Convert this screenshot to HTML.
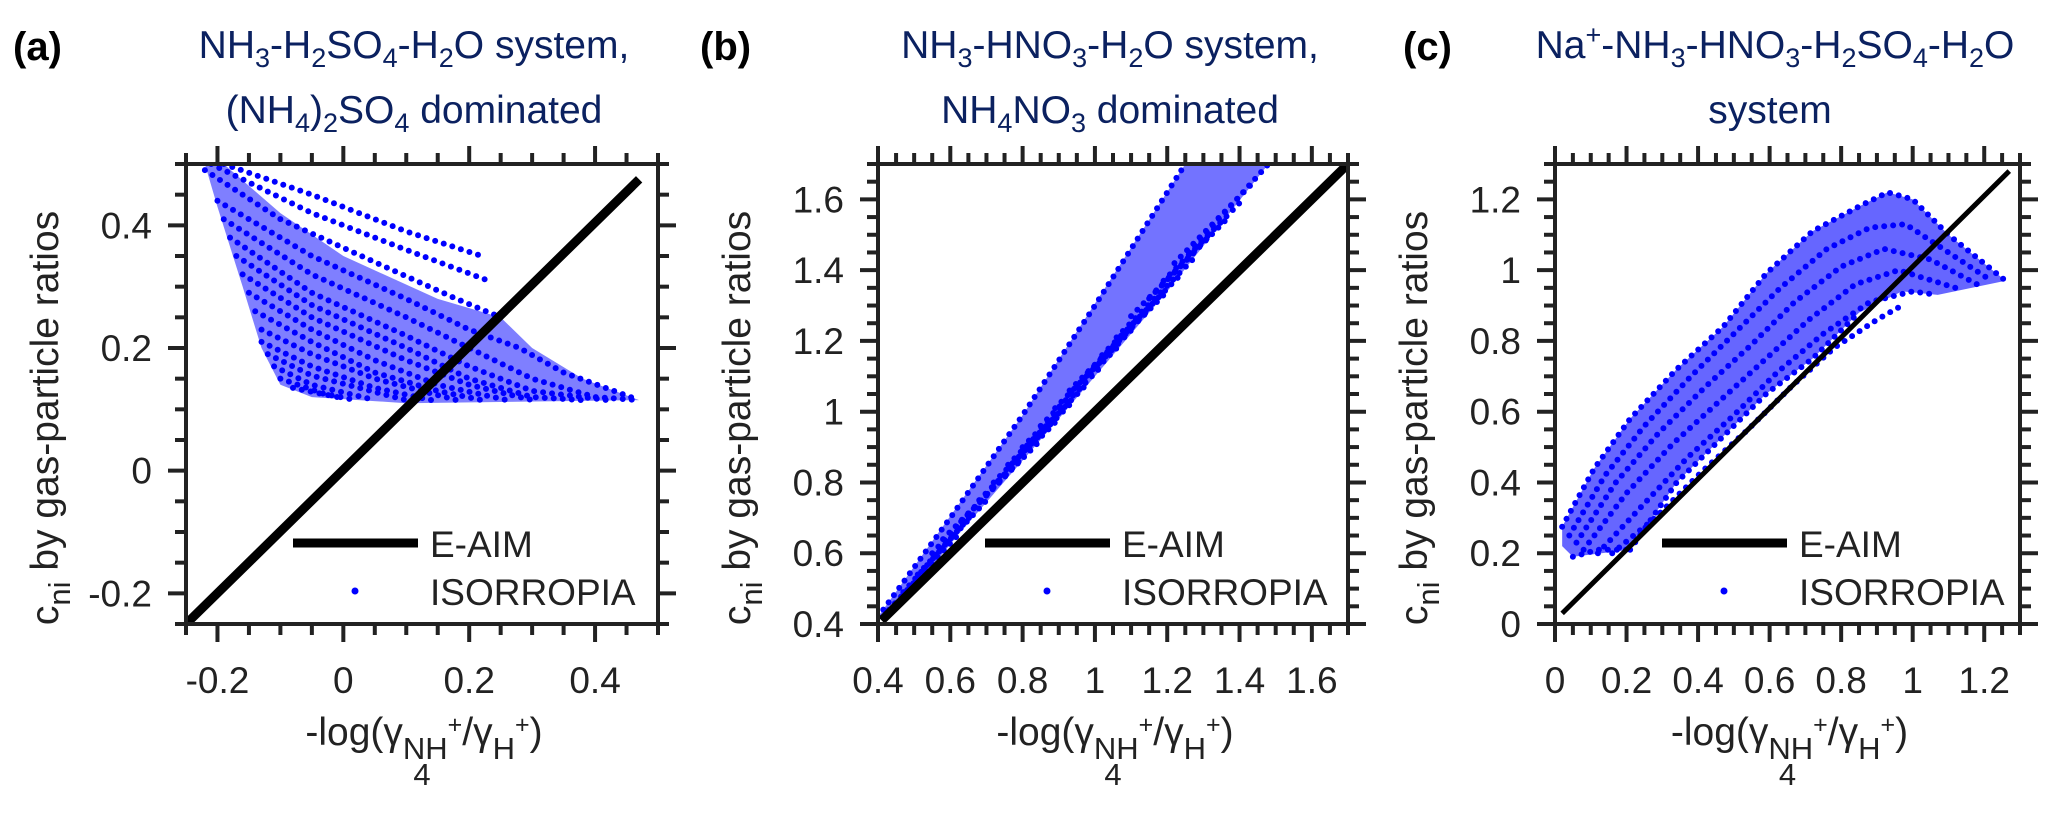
<!DOCTYPE html>
<html><head><meta charset="utf-8"><style>
html,body{margin:0;padding:0;background:#fff;}
svg{display:block;font-family:"Liberation Sans",Arial,sans-serif;}
</style></head><body>
<svg id="fig" width="2067" height="815" viewBox="0 0 2067 815" xmlns="http://www.w3.org/2000/svg">
<text x="13" y="60" font-size="40" font-weight="bold">(a)</text>
<text x="700" y="60" font-size="40" font-weight="bold">(b)</text>
<text x="1403" y="60" font-size="40" font-weight="bold">(c)</text>
<g fill="#0b2160" font-size="39" text-anchor="middle">
<text x="414" y="58">NH<tspan font-size="27" dy="9">3</tspan><tspan dy="-9">-H</tspan><tspan font-size="27" dy="9">2</tspan><tspan dy="-9">SO</tspan><tspan font-size="27" dy="9">4</tspan><tspan dy="-9">-H</tspan><tspan font-size="27" dy="9">2</tspan><tspan dy="-9">O system,</tspan></text>
<text x="414" y="123">(NH<tspan font-size="27" dy="9">4</tspan><tspan dy="-9">)</tspan><tspan font-size="27" dy="9">2</tspan><tspan dy="-9">SO</tspan><tspan font-size="27" dy="9">4</tspan><tspan dy="-9"> dominated</tspan></text>
<text x="1110" y="58">NH<tspan font-size="27" dy="9">3</tspan><tspan dy="-9">-HNO</tspan><tspan font-size="27" dy="9">3</tspan><tspan dy="-9">-H</tspan><tspan font-size="27" dy="9">2</tspan><tspan dy="-9">O system,</tspan></text>
<text x="1110" y="123">NH<tspan font-size="27" dy="9">4</tspan><tspan dy="-9">NO</tspan><tspan font-size="27" dy="9">3</tspan><tspan dy="-9"> dominated</tspan></text>
<text x="1775" y="58">Na<tspan font-size="27" dy="-14">+</tspan><tspan dy="14">-NH</tspan><tspan font-size="27" dy="9">3</tspan><tspan dy="-9">-HNO</tspan><tspan font-size="27" dy="9">3</tspan><tspan dy="-9">-H</tspan><tspan font-size="27" dy="9">2</tspan><tspan dy="-9">SO</tspan><tspan font-size="27" dy="9">4</tspan><tspan dy="-9">-H</tspan><tspan font-size="27" dy="9">2</tspan><tspan dy="-9">O</tspan></text>
<text x="1770" y="123">system</text>
</g>
</svg>
<script>
// ---------- Panel (a) data ----------
const aTicks = [-0.2, 0, 0.2, 0.4];
const aTickLabels = ["-0.2", "0", "0.2", "0.4"];
const aEaim = [[-0.25, -0.25], [0.47, 0.475]];
const aCloud = [[-0.22,0.5],[-0.19,0.5],[-0.1,0.42],[0,0.35],[0.15,0.28],[0.25,0.25],[0.3,0.2],[0.38,0.15],[0.47,0.115],[0.1,0.11],[-0.05,0.12],[-0.1,0.14],[-0.13,0.2],[-0.16,0.3],[-0.2,0.43]];
const aCurves = [
 [[-0.19,0.5],[-0.05,0.45],[0.1,0.39],[0.22,0.35]],
 [[-0.21,0.5],[-0.05,0.42],[0.1,0.36],[0.23,0.31]],
 [[-0.22,0.49],[-0.1,0.41],[0.05,0.34],[0.18,0.28],[0.25,0.25]],
 [[-0.2,0.44],[-0.05,0.35],[0.1,0.28],[0.2,0.23],[0.28,0.2],[0.35,0.16],[0.47,0.115]],
 [[-0.19,0.41],[-0.05,0.32],[0.1,0.25],[0.2,0.2],[0.3,0.15],[0.4,0.12],[0.47,0.115]],
 [[-0.18,0.38],[-0.05,0.29],[0.1,0.22],[0.2,0.17],[0.3,0.13],[0.42,0.115]],
 [[-0.17,0.35],[-0.05,0.27],[0.1,0.2],[0.2,0.15],[0.3,0.12],[0.38,0.115]],
 [[-0.16,0.32],[-0.05,0.25],[0.1,0.18],[0.2,0.14],[0.3,0.115]],
 [[-0.15,0.29],[-0.05,0.23],[0.05,0.18],[0.15,0.14],[0.26,0.115]],
 [[-0.14,0.26],[-0.05,0.21],[0.05,0.16],[0.15,0.13],[0.22,0.115]],
 [[-0.13,0.23],[-0.05,0.19],[0.05,0.15],[0.18,0.115]],
 [[-0.13,0.21],[-0.05,0.17],[0.05,0.135],[0.14,0.115]],
 [[-0.12,0.19],[-0.05,0.155],[0.1,0.115]],
 [[-0.11,0.17],[-0.05,0.14],[0.05,0.115]],
 [[-0.1,0.15],[-0.03,0.125],[0.02,0.115]],
 [[-0.08,0.135],[0,0.118]]
];
// ---------- Panel (b) data ----------
const bTicks = [0.4, 0.6, 0.8, 1, 1.2, 1.4, 1.6];
const bTickLabels = ["0.4", "0.6", "0.8", "1", "1.2", "1.4", "1.6"];
const bEaim = [[0.41, 0.41], [1.7, 1.7]];
const bCloud = [[0.4,0.42],[0.8,0.99],[1.25,1.7],[1.48,1.7],[1.2,1.34],[0.9,0.98],[0.62,0.65],[0.45,0.44]];
const bCurves = [
 [[0.4,0.42],[0.6,0.7],[0.8,0.99],[1.0,1.3],[1.25,1.7]],
 [[1.26,1.45],[1.48,1.7]],
 [[1.22,1.42],[1.44,1.65]],
 [[1.19,1.37],[1.41,1.6]],
 [[1.15,1.32],[1.37,1.55]],
 [[1.1,1.27],[1.32,1.5]],
 [[1.06,1.21],[1.28,1.44]],
 [[1.02,1.16],[1.24,1.39]],
 [[0.98,1.11],[1.2,1.34]],
 [[0.93,1.06],[1.15,1.29]],
 [[0.89,1.01],[1.11,1.24]],
 [[0.85,0.96],[1.07,1.19]],
 [[0.8,0.9],[1.02,1.13]],
 [[0.76,0.85],[0.98,1.08]],
 [[0.72,0.8],[0.94,1.03]],
 [[0.68,0.75],[0.9,0.98]],
 [[0.63,0.69],[0.85,0.92]],
 [[0.58,0.64],[0.8,0.87]],
 [[0.55,0.6],[0.75,0.82]],
 [[0.51,0.54],[0.71,0.76]],
 [[0.47,0.49],[0.66,0.71]],
 [[0.43,0.44],[0.62,0.65]]
];
// ---------- Panel (c) data ----------
const cTicks = [0, 0.2, 0.4, 0.6, 0.8, 1, 1.2];
const cTickLabels = ["0", "0.2", "0.4", "0.6", "0.8", "1", "1.2"];
const cEaim = [[0.02, 0.03], [1.27, 1.28]];
const cCloud = [[0.02,0.275],[0.11,0.44],[0.21,0.58],[0.34,0.72],[0.47,0.84],[0.59,0.99],[0.72,1.11],[0.85,1.18],[0.93,1.22],[1.0,1.2],[1.1,1.1],[1.26,0.97],[1.07,0.93],[0.97,0.94],[0.85,0.88],[0.72,0.75],[0.59,0.65],[0.47,0.53],[0.34,0.4],[0.21,0.21],[0.05,0.19],[0.02,0.22]];
const cCurves = [
 [[0.02,0.275],[0.11,0.44],[0.21,0.58],[0.34,0.72],[0.47,0.84],[0.59,0.99],[0.72,1.11],[0.85,1.18],[0.93,1.22],[1.0,1.2],[1.1,1.1],[1.26,0.97]],
 [[0.04,0.25],[0.14,0.42],[0.25,0.56],[0.38,0.7],[0.5,0.82],[0.63,0.95],[0.76,1.06],[0.88,1.12],[0.98,1.13],[1.1,1.05],[1.22,0.97]],
 [[0.06,0.23],[0.17,0.4],[0.29,0.54],[0.42,0.67],[0.55,0.79],[0.67,0.91],[0.8,1.01],[0.92,1.06],[1.05,1.03],[1.18,0.96]],
 [[0.08,0.21],[0.2,0.37],[0.33,0.51],[0.46,0.63],[0.59,0.75],[0.71,0.86],[0.84,0.96],[0.96,1.0],[1.12,0.95]],
 [[0.12,0.2],[0.24,0.33],[0.37,0.47],[0.5,0.59],[0.62,0.71],[0.75,0.82],[0.88,0.91],[1.0,0.94],[1.07,0.93]],
 [[0.16,0.2],[0.28,0.3],[0.41,0.43],[0.54,0.55],[0.66,0.67],[0.78,0.78],[0.9,0.86],[0.97,0.9]],
 [[0.21,0.21],[0.34,0.4],[0.47,0.53],[0.59,0.65],[0.72,0.75],[0.85,0.88]],
 [[0.05,0.19],[0.12,0.21],[0.21,0.21]]
];

const NS = "http://www.w3.org/2000/svg";
const svg = document.getElementById('fig');
function mk(tag, attrs, parent) {
  const e = document.createElementNS(NS, tag);
  for (const k in attrs) e.setAttribute(k, attrs[k]);
  (parent || svg).appendChild(e);
  return e;
}
const panels = [
  {id:'a', L:186, R:658, T:164, B:624, x0:-0.25, x1:0.5, y0:-0.25, y1:0.5, ticks:aTicks, labels:aTickLabels, eaim:aEaim, cloud:aCloud, curves:aCurves, lw:9, cloudOp:0.5},
  {id:'b', L:878, R:1348, T:164, B:624, x0:0.4, x1:1.7, y0:0.4, y1:1.7, ticks:bTicks, labels:bTickLabels, eaim:bEaim, cloud:bCloud, curves:bCurves, lw:9, cloudOp:0.55},
  {id:'c', L:1555, R:2020, T:164, B:624, x0:0, x1:1.3, y0:0, y1:1.3, ticks:cTicks, labels:cTickLabels, eaim:cEaim, cloud:cCloud, curves:cCurves, lw:5, cloudOp:0.6}
];
panels.forEach(p => {
  const sx = v => p.L + (v - p.x0) / (p.x1 - p.x0) * (p.R - p.L);
  const sy = v => p.B - (v - p.y0) / (p.y1 - p.y0) * (p.B - p.T);
  const g = mk('g', {});
  
  
  const clipId = 'clip' + p.id;
  const cp = mk('clipPath', {id: clipId}, g);
  mk('rect', {x:p.L, y:p.T, width:p.R-p.L, height:p.B-p.T}, cp);
  const plot = mk('g', {'clip-path': 'url(#' + clipId + ')'}, g);
  const cl = mk('polygon', {points: p.cloud.map(q => sx(q[0]) + ',' + sy(q[1])).join(' '), fill:'#0000ff', opacity:p.cloudOp}, plot);
  
  
  p.curves.forEach((c, i) => {
    const pl = mk('polyline', {points: c.map(q => sx(q[0]) + ',' + sy(q[1])).join(' '), fill:'none', stroke:'#0000ff', 'stroke-width':6, 'stroke-linecap':'round', 'stroke-dasharray':'0 9'}, plot);
    
    
  });
  const el = mk('line', {x1:sx(p.eaim[0][0]), y1:sy(p.eaim[0][1]), x2:sx(p.eaim[1][0]), y2:sy(p.eaim[1][1]), stroke:'#000', 'stroke-width':p.lw}, plot);
  
  
  const tg = mk('g', {stroke:'#222', 'stroke-width':4}, g);
  
  
  const step = 0.05;
  const nx = Math.round((p.x1 - p.x0) / step);
  for (let i = 0; i <= nx; i++) {
    const v = p.x0 + i * step;
    const major = p.ticks.some(t => Math.abs(t - v) < 1e-6);
    const len = major ? 18 : 11;
    const x = sx(v);
    mk('line', {x1:x, y1:p.B, x2:x, y2:p.B+len}, tg);
    mk('line', {x1:x, y1:p.T, x2:x, y2:p.T-len}, tg);
  }
  const ny = Math.round((p.y1 - p.y0) / step);
  for (let i = 0; i <= ny; i++) {
    const v = p.y0 + i * step;
    const major = p.ticks.some(t => Math.abs(t - v) < 1e-6);
    const len = major ? 18 : 11;
    const y = sy(v);
    mk('line', {x1:p.L, y1:y, x2:p.L-len, y2:y}, tg);
    mk('line', {x1:p.R, y1:y, x2:p.R+len, y2:y}, tg);
  }
  const box = mk('rect', {x:p.L, y:p.T, width:p.R-p.L, height:p.B-p.T, fill:'none', stroke:'#222', 'stroke-width':4}, g);
  
  
  p.ticks.forEach((t, i) => {
    const tx = mk('text', {x:sx(t), y:693, 'font-size':37, 'text-anchor':'middle', fill:'#222'}, g);
    tx.textContent = p.labels[i];
    
    
    const ty = mk('text', {x:p.L-34, y:sy(t)+13, 'font-size':37, 'text-anchor':'end', fill:'#222'}, g);
    ty.textContent = p.labels[i];
    
    
  });
  const lx = p.L + 107;
  const ll = mk('line', {x1:lx, y1:543, x2:lx+125, y2:543, stroke:'#000', 'stroke-width':9}, g);
  
  
  const lt = mk('text', {x:lx+137, y:557, 'font-size':37, fill:'#222'}, g);
  lt.textContent = 'E-AIM';
  
  
  const ld = mk('circle', {cx:lx+62, cy:591, r:3.5, fill:'#0000ff'}, g);
  
  
  const lt2 = mk('text', {x:lx+137, y:605, 'font-size':37, fill:'#222'}, g);
  lt2.textContent = 'ISORROPIA';
  
  
  const xc = (p.L + p.R) / 2 + 2;
  const xt = mk('text', {x:xc, y:745, 'font-size':39, 'text-anchor':'middle', fill:'#222'}, g);
  
  
  xt.innerHTML = '-log(\u03b3<tspan font-size="31" dy="14">NH</tspan><tspan font-size="25" dy="-26">+</tspan><tspan dy="12">/\u03b3</tspan><tspan font-size="31" dy="14">H</tspan><tspan font-size="25" dy="-26">+</tspan><tspan dy="12">)</tspan>';
  const four = mk('text', {x:xc - 2, y:785, 'font-size':31, 'text-anchor':'middle', fill:'#222'}, g);
  four.textContent = '4';
  
  
  const yx = p.L - 128;
  const yc = 418;
  const yt = mk('text', {x:0, y:0, 'font-size':39, 'text-anchor':'middle', fill:'#222', transform:'translate(' + yx + ',' + yc + ') rotate(-90)'}, g);
  
  
  yt.innerHTML = 'c<tspan font-size="31" dy="12">ni</tspan><tspan dy="-12"> by gas-particle ratios</tspan>';
});
</script>
</body></html>
